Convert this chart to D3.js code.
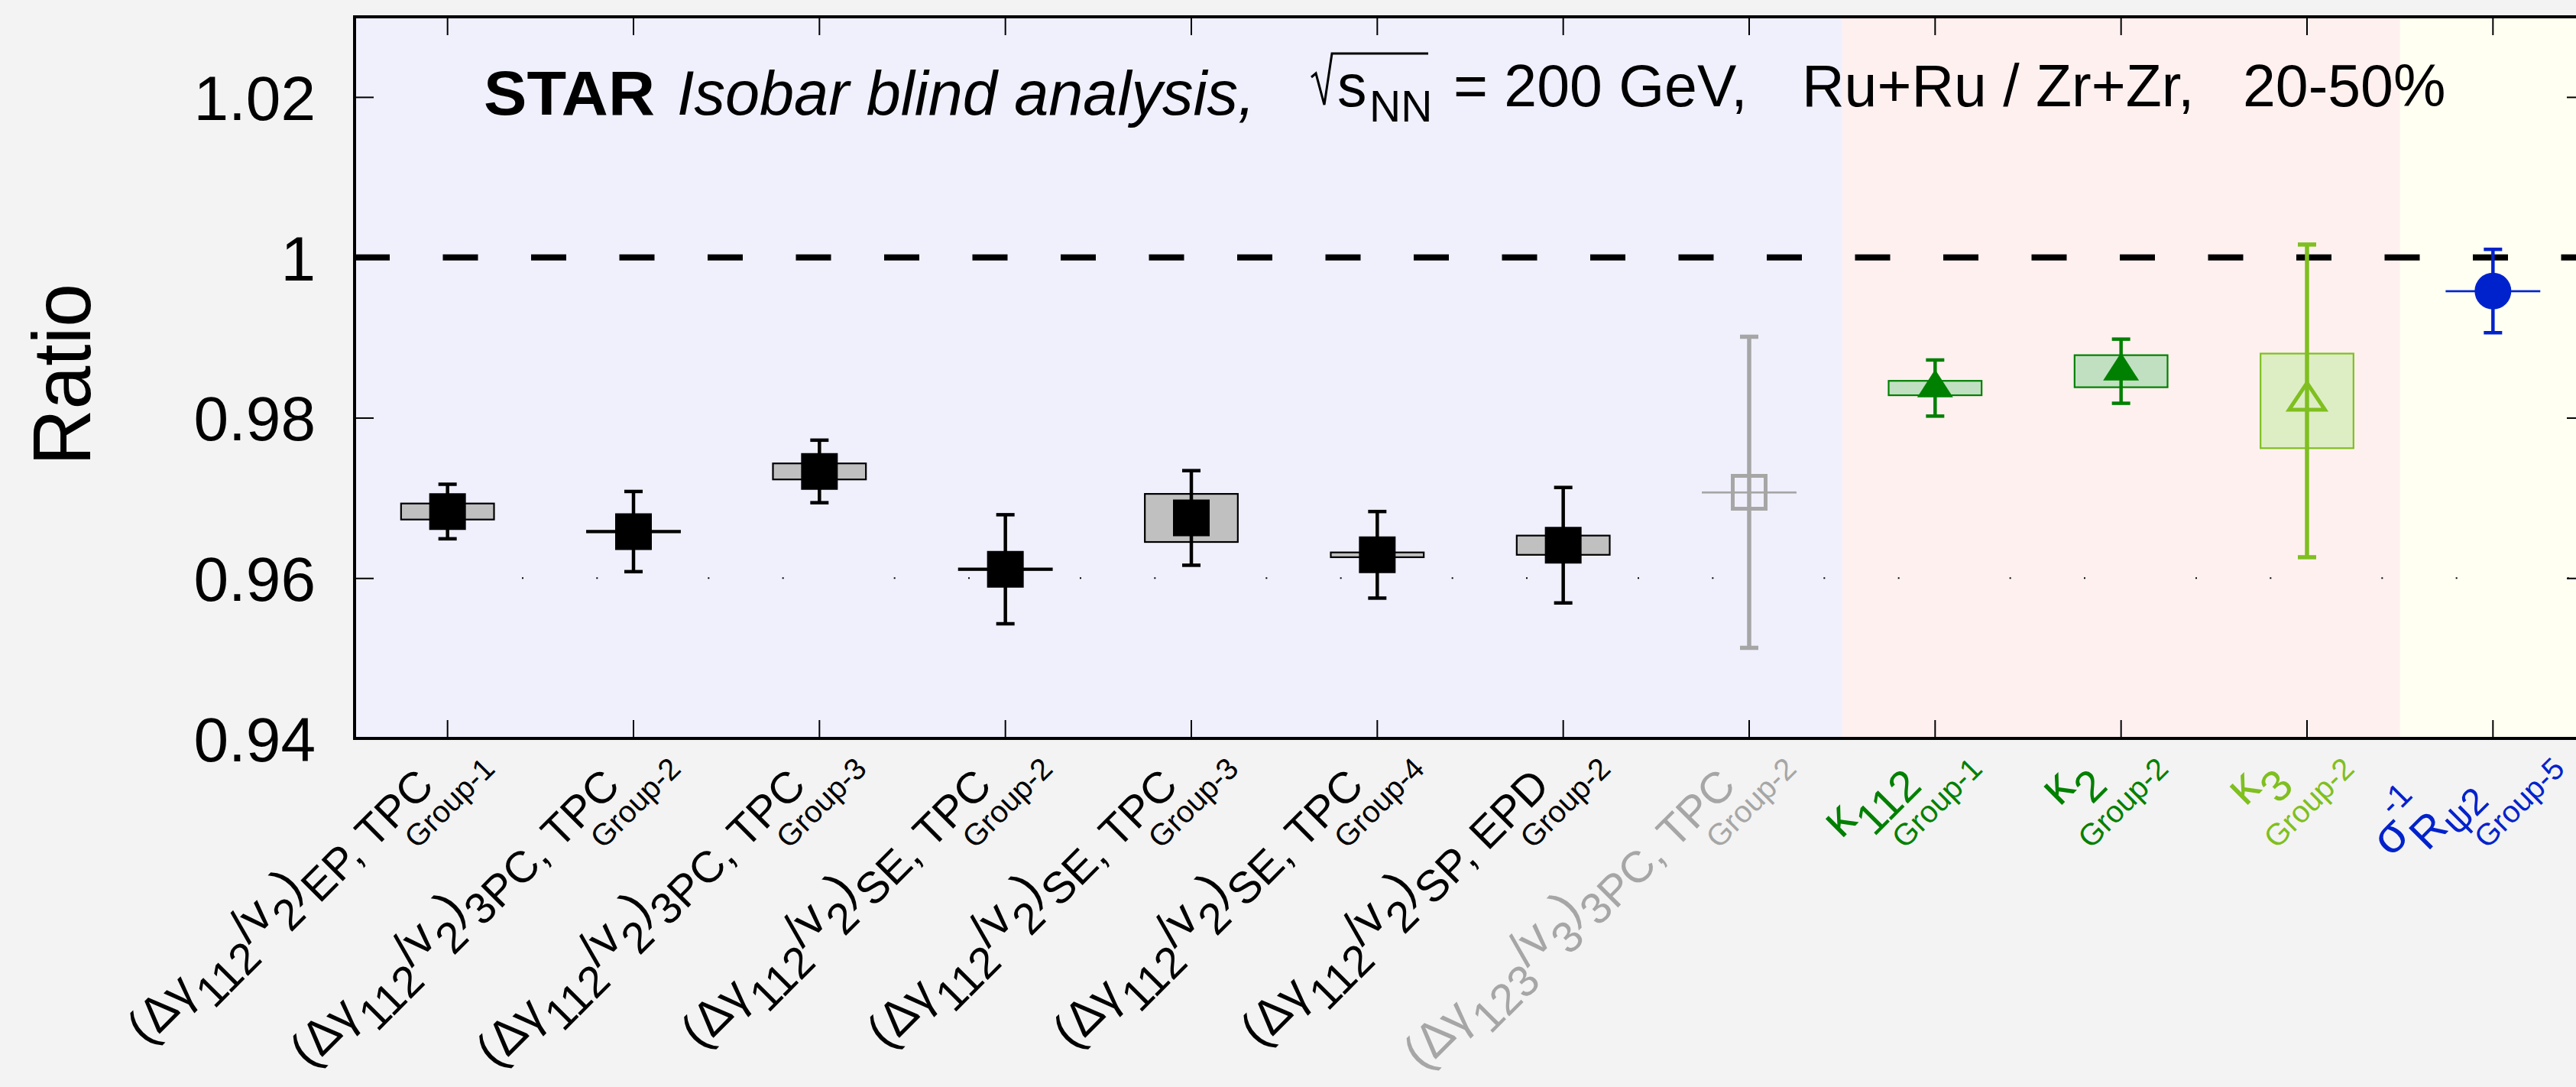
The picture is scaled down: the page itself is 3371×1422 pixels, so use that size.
<!DOCTYPE html>
<html lang="en">
  <head>
    <meta charset="UTF-8">
    <title>Isobar blind analysis ratios</title>
    <style>
    * {
      box-sizing: border-box;
      margin: 0;
      padding: 0;
    }

    body {
      background: #f3f3f3;
    }

    svg {
      display: block;
      font-family: "Liberation Sans", Arial, sans-serif;
    }

    .tick line {
      stroke: #000;
      stroke-width: 2px;
    }

    .domain {
      display: none;
    }
    </style>
  </head>
  <body>
    <svg id="chart" width="3371" height="1422"></svg>
    <script src="https://d3js.org/d3.v7.min.js"></script>
    <script>
      // tick labels along x, written TLatex-style (_{} sub, ^{} sup)
      const categories = [
        "(Δγ_{112}/v_{2})_{EP, TPC}",
        "(Δγ_{112}/v_{2})_{3PC, TPC}",
        "(Δγ_{112}/v_{2})_{3PC, TPC}",
        "(Δγ_{112}/v_{2})_{SE, TPC}",
        "(Δγ_{112}/v_{2})_{SE, TPC}",
        "(Δγ_{112}/v_{2})_{SE, TPC}",
        "(Δγ_{112}/v_{2})_{SP, EPD}",
        "(Δγ_{123}/v_{3})_{3PC, TPC}",
        "κ_{112}",
        "κ_{2}",
        "κ_{3}",
        "σ^{-1}_{R_{ψ2}}"
      ];
      const groups = ["Group-1", "Group-2", "Group-3", "Group-2", "Group-3", "Group-4",
                      "Group-2", "Group-2", "Group-1", "Group-2", "Group-2", "Group-5"];
      const observables = ["g112", "g112", "g112", "g112", "g112", "g112", "g112",
                           "g123", "kappa", "kappa", "kappa3", "sigma"];

      const ratio   = [0.9683, 0.9658, 0.9733, 0.9611, 0.9675, 0.9629, 0.9641, 0.9707, 0.9837, 0.9858, 0.9821, 0.9958];
      const statErr = [0.0034, 0.0050, 0.0039, 0.0068, 0.0059, 0.0054, 0.0072, 0.0194, 0.0035, 0.0040, 0.0195, 0.0052];
      const sysErr  = [0.0010, 0.0001, 0.0010, 0.0001, 0.0030, 0.0003, 0.0012, 0.0000, 0.0009, 0.0020, 0.0059, 0.0000];

      const yTicks = [0.94, 0.96, 0.98, 1.0, 1.02];
      const yDomain = [0.94, 1.03];
      const refLine = 1.0;
      const dotLine = 0.96;

      const styles = {
        g112:   { color: "#000000", fill: "#c0c0c0", marker: "square",    bg: "#f0f0fd" },
        g123:   { color: "#a6a6a6", fill: "none",    marker: "openSquare", bg: "#f0f0fd" },
        kappa:  { color: "#008000", fill: "#c1e0c1", marker: "triangle",  bg: "#fff0f0" },
        kappa3: { color: "#7fbf1f", fill: "#ddeec5", marker: "openTriangle", bg: "#fff0f0" },
        sigma:  { color: "#0022cc", fill: "none",    marker: "circle",    bg: "#fffff2" }
      };

      const margin = { top: 22, left: 464 };
      const plotW = 2920, plotH = 944;

      const svg = d3.select("#chart");
      const g = svg.append("g").attr("transform", `translate(${margin.left},${margin.top})`);

      const x = d3.scaleBand().domain(d3.range(categories.length)).range([0, plotW]);
      const y = d3.scaleLinear().domain(yDomain).range([plotH, 0]);
      const bw = x.bandwidth();
      const cx = i => x(i) + bw / 2;

      // coloured backgrounds per observable family
      g.selectAll(".bg")
        .data(categories.map((c, i) => i))
        .enter().append("rect")
        .attr("x", i => x(i))
        .attr("y", 0)
        .attr("width", bw + 1)
        .attr("height", plotH)
        .attr("fill", i => styles[observables[i]].bg);

      // axes with inward ticks
      const fmt = d => d === 1 ? "1" : d3.format(".2f")(d);
      const yl = g.append("g").call(d3.axisLeft(y).tickValues(yTicks).tickSize(-25).tickPadding(51).tickFormat(fmt));
      yl.selectAll("text")
        .attr("font-size", 82)
        .attr("font-family", "Liberation Sans, Arial, sans-serif")
        .attr("fill", "#000")
        .attr("dy", "0.36em");
      g.append("g").attr("transform", `translate(${plotW},0)`)
        .call(d3.axisRight(y).tickValues(yTicks).tickSize(-25).tickFormat(""));
      g.append("g").attr("transform", `translate(0,${plotH})`)
        .call(d3.axisBottom(x).tickSize(-24).tickFormat(""));
      g.append("g")
        .call(d3.axisTop(x).tickSize(-24).tickFormat(""));

      // sparse dotted line at 0.96
      g.append("line")
        .attr("x1", x(0) + bw * 0.9)
        .attr("x2", plotW)
        .attr("y1", y(dotLine))
        .attr("y2", y(dotLine))
        .attr("stroke", "#000")
        .attr("stroke-width", 2)
        .attr("stroke-dasharray", `2 ${bw * 0.4 - 2} 2 ${bw * 0.6 - 2}`);

      // dashed unity line
      g.append("line")
        .attr("x1", 0)
        .attr("x2", plotW)
        .attr("y1", y(refLine))
        .attr("y2", y(refLine))
        .attr("stroke", "#000")
        .attr("stroke-width", 8)
        .attr("stroke-dasharray", "46 69.5");

      function markerPath(kind) {
        if (kind === "square") return "M-24,-24H24V24H-24Z";
        if (kind === "openSquare") return "M-21.5,-21.5H21.5V21.5H-21.5Z";
        if (kind === "triangle") return "M0,-24.4L23.5,12.2L-23.5,12.2Z";
        if (kind === "openTriangle") return "M0,-23.5L23.5,11.7L-23.5,11.7Z";
        return d3.symbol(d3.symbolCircle, Math.PI * 24 * 24)();
      }

      const pts = g.selectAll(".pt")
        .data(ratio.map((v, i) => ({ i, v, stat: statErr[i], sys: sysErr[i], st: styles[observables[i]] })))
        .enter().append("g")
        .attr("class", "pt");

      // systematic boxes (zero-size ones collapse to a line)
      pts.append("rect")
        .attr("x", d => cx(d.i) - bw / 4)
        .attr("width", bw / 2)
        .attr("y", d => y(d.v + d.sys))
        .attr("height", d => Math.max(0.5, y(d.v - d.sys) - y(d.v + d.sys)))
        .attr("fill", d => d.st.fill)
        .attr("stroke", d => d.st.color)
        .attr("stroke-width", 2.2);

      // statistical error bars
      const isOpen = d => d.st.marker.startsWith("open");
      pts.append("line")
        .attr("x1", d => cx(d.i)).attr("x2", d => cx(d.i))
        .attr("y1", d => y(d.v + d.stat)).attr("y2", d => y(d.v - d.stat))
        .attr("stroke", d => d.st.color)
        .attr("stroke-width", d => isOpen(d) ? 5.5 : 4.5);
      [1, -1].forEach(sgn => {
        pts.append("line")
          .attr("x1", d => cx(d.i) - 12).attr("x2", d => cx(d.i) + 12)
          .attr("y1", d => y(d.v + sgn * d.stat)).attr("y2", d => y(d.v + sgn * d.stat))
          .attr("stroke", d => d.st.color)
          .attr("stroke-width", d => isOpen(d) ? 5.5 : 4.5);
      });

      // markers
      pts.append("path")
        .attr("transform", d => `translate(${cx(d.i)},${y(d.v)})`)
        .attr("d", d => markerPath(d.st.marker))
        .attr("fill", d => isOpen(d) ? "none" : d.st.color)
        .attr("stroke", d => isOpen(d) ? d.st.color : "none")
        .attr("stroke-width", 5)
        .attr("stroke-linejoin", "miter");

      // frame
      g.append("rect")
        .attr("width", plotW)
        .attr("height", plotH)
        .attr("fill", "none")
        .attr("stroke", "#000")
        .attr("stroke-width", 4);

      // tiny TLatex-like parser: returns segments with size and baseline
      function parseLatex(str, size, base, depth, out) {
        let buf = "", i = 0, lastSup = null;
        const flush = () => { if (buf) out.push({ text: buf, size, base }); buf = ""; };
        while (i < str.length) {
          const ch = str[i];
          if ((ch === "_" || ch === "^") && str[i + 1] === "{") {
            flush();
            let d = 1, j = i + 2;
            while (d > 0) { if (str[j] === "{") d++; if (str[j] === "}") d--; j++; }
            const inner = str.slice(i + 2, j - 1);
            const from = out.length;
            if (ch === "^") {
              parseLatex(inner, size * 0.68, base - size * 0.56, depth + 1, out);
              out.slice(from).forEach(s => s.supId = from);
              lastSup = from;
            } else if (depth === 0) {
              parseLatex(inner, size * 0.9, base + size * 0.44, depth + 1, out);
              if (lastSup != null && out[from]) out[from].backTo = lastSup;
              lastSup = null;
            } else {
              parseLatex(inner, size * 0.85, base + size * 0.23, depth + 1, out);
              lastSup = null;
            }
            i = j;
          } else {
            buf += ch;
            i++;
            lastSup = null;
          }
        }
        flush();
        return out;
      }

      // one text element, tspans with dy for baseline shifts
      function drawLatex(text, str, size) {
        const segs = parseLatex(str, size, 0, 0, []);
        let prev = 0;
        const supW = {};
        segs.forEach(s => {
          const ts = text.append("tspan")
            .attr("font-size", s.size)
            .attr("dy", s.base - prev)
            .text(s.text);
          if (s.backTo != null) ts.attr("dx", -supW[s.backTo]);
          if (s.supId != null) supW[s.supId] = (supW[s.supId] || 0) + ts.node().getComputedTextLength();
          prev = s.base;
        });
        return prev;
      }

      // rotated category labels: group name ends at the anchor, main text sits up-left of it
      const labelSize = 64, groupSize = 40;
      categories.forEach((c, i) => {
        const col = styles[observables[i]].color;
        const hasSup = c.includes("^{");
        const lab = g.append("g")
          .attr("transform", `translate(${cx(i) + (hasSup ? 96 : 64)},${plotH + 42}) rotate(-45)`)
          .attr("fill", col);
        const main = lab.append("text")
          .attr("text-anchor", "end")
          .attr("x", hasSup ? -100 : -72);
        const lastBase = drawLatex(main, c, labelSize);
        main.attr("y", -40 - lastBase);
        lab.append("text")
          .attr("text-anchor", "end")
          .attr("font-size", groupSize)
          .text(groups[i]);
      });

      // y title
      svg.append("text")
        .attr("transform", "translate(118,490) rotate(-90)")
        .attr("text-anchor", "middle")
        .attr("font-size", 108)
        .attr("textLength", 238)
        .attr("lengthAdjust", "spacingAndGlyphs")
        .text("Ratio");

      // header text
      const head = svg.append("g");
      head.append("text").attr("x", 633).attr("y", 150)
        .attr("font-size", 81).attr("font-weight", "bold")
        .attr("textLength", 224).attr("lengthAdjust", "spacingAndGlyphs")
        .text("STAR");
      head.append("text").attr("x", 886).attr("y", 150)
        .attr("font-size", 81).attr("font-style", "italic").text("Isobar blind analysis,");
      const rx = 1716;
      head.append("path")
        .attr("d", `M${rx},101L${rx + 6},96L${rx + 17},137L${rx + 27},70H${rx + 153}`)
        .attr("fill", "none")
        .attr("stroke", "#000")
        .attr("stroke-width", 3);
      head.append("text").attr("x", rx + 34).attr("y", 139).attr("font-size", 77).text("s");
      head.append("text").attr("x", rx + 76).attr("y", 159).attr("font-size", 57).text("NN");
      head.append("text").attr("x", 1902).attr("y", 139).attr("font-size", 77).text("= 200 GeV,");
      head.append("text").attr("x", 2358).attr("y", 139).attr("font-size", 77).text("Ru+Ru / Zr+Zr,");
      head.append("text").attr("x", 2935).attr("y", 139).attr("font-size", 77).text("20-50%");
    </script>
  </body>
</html>
